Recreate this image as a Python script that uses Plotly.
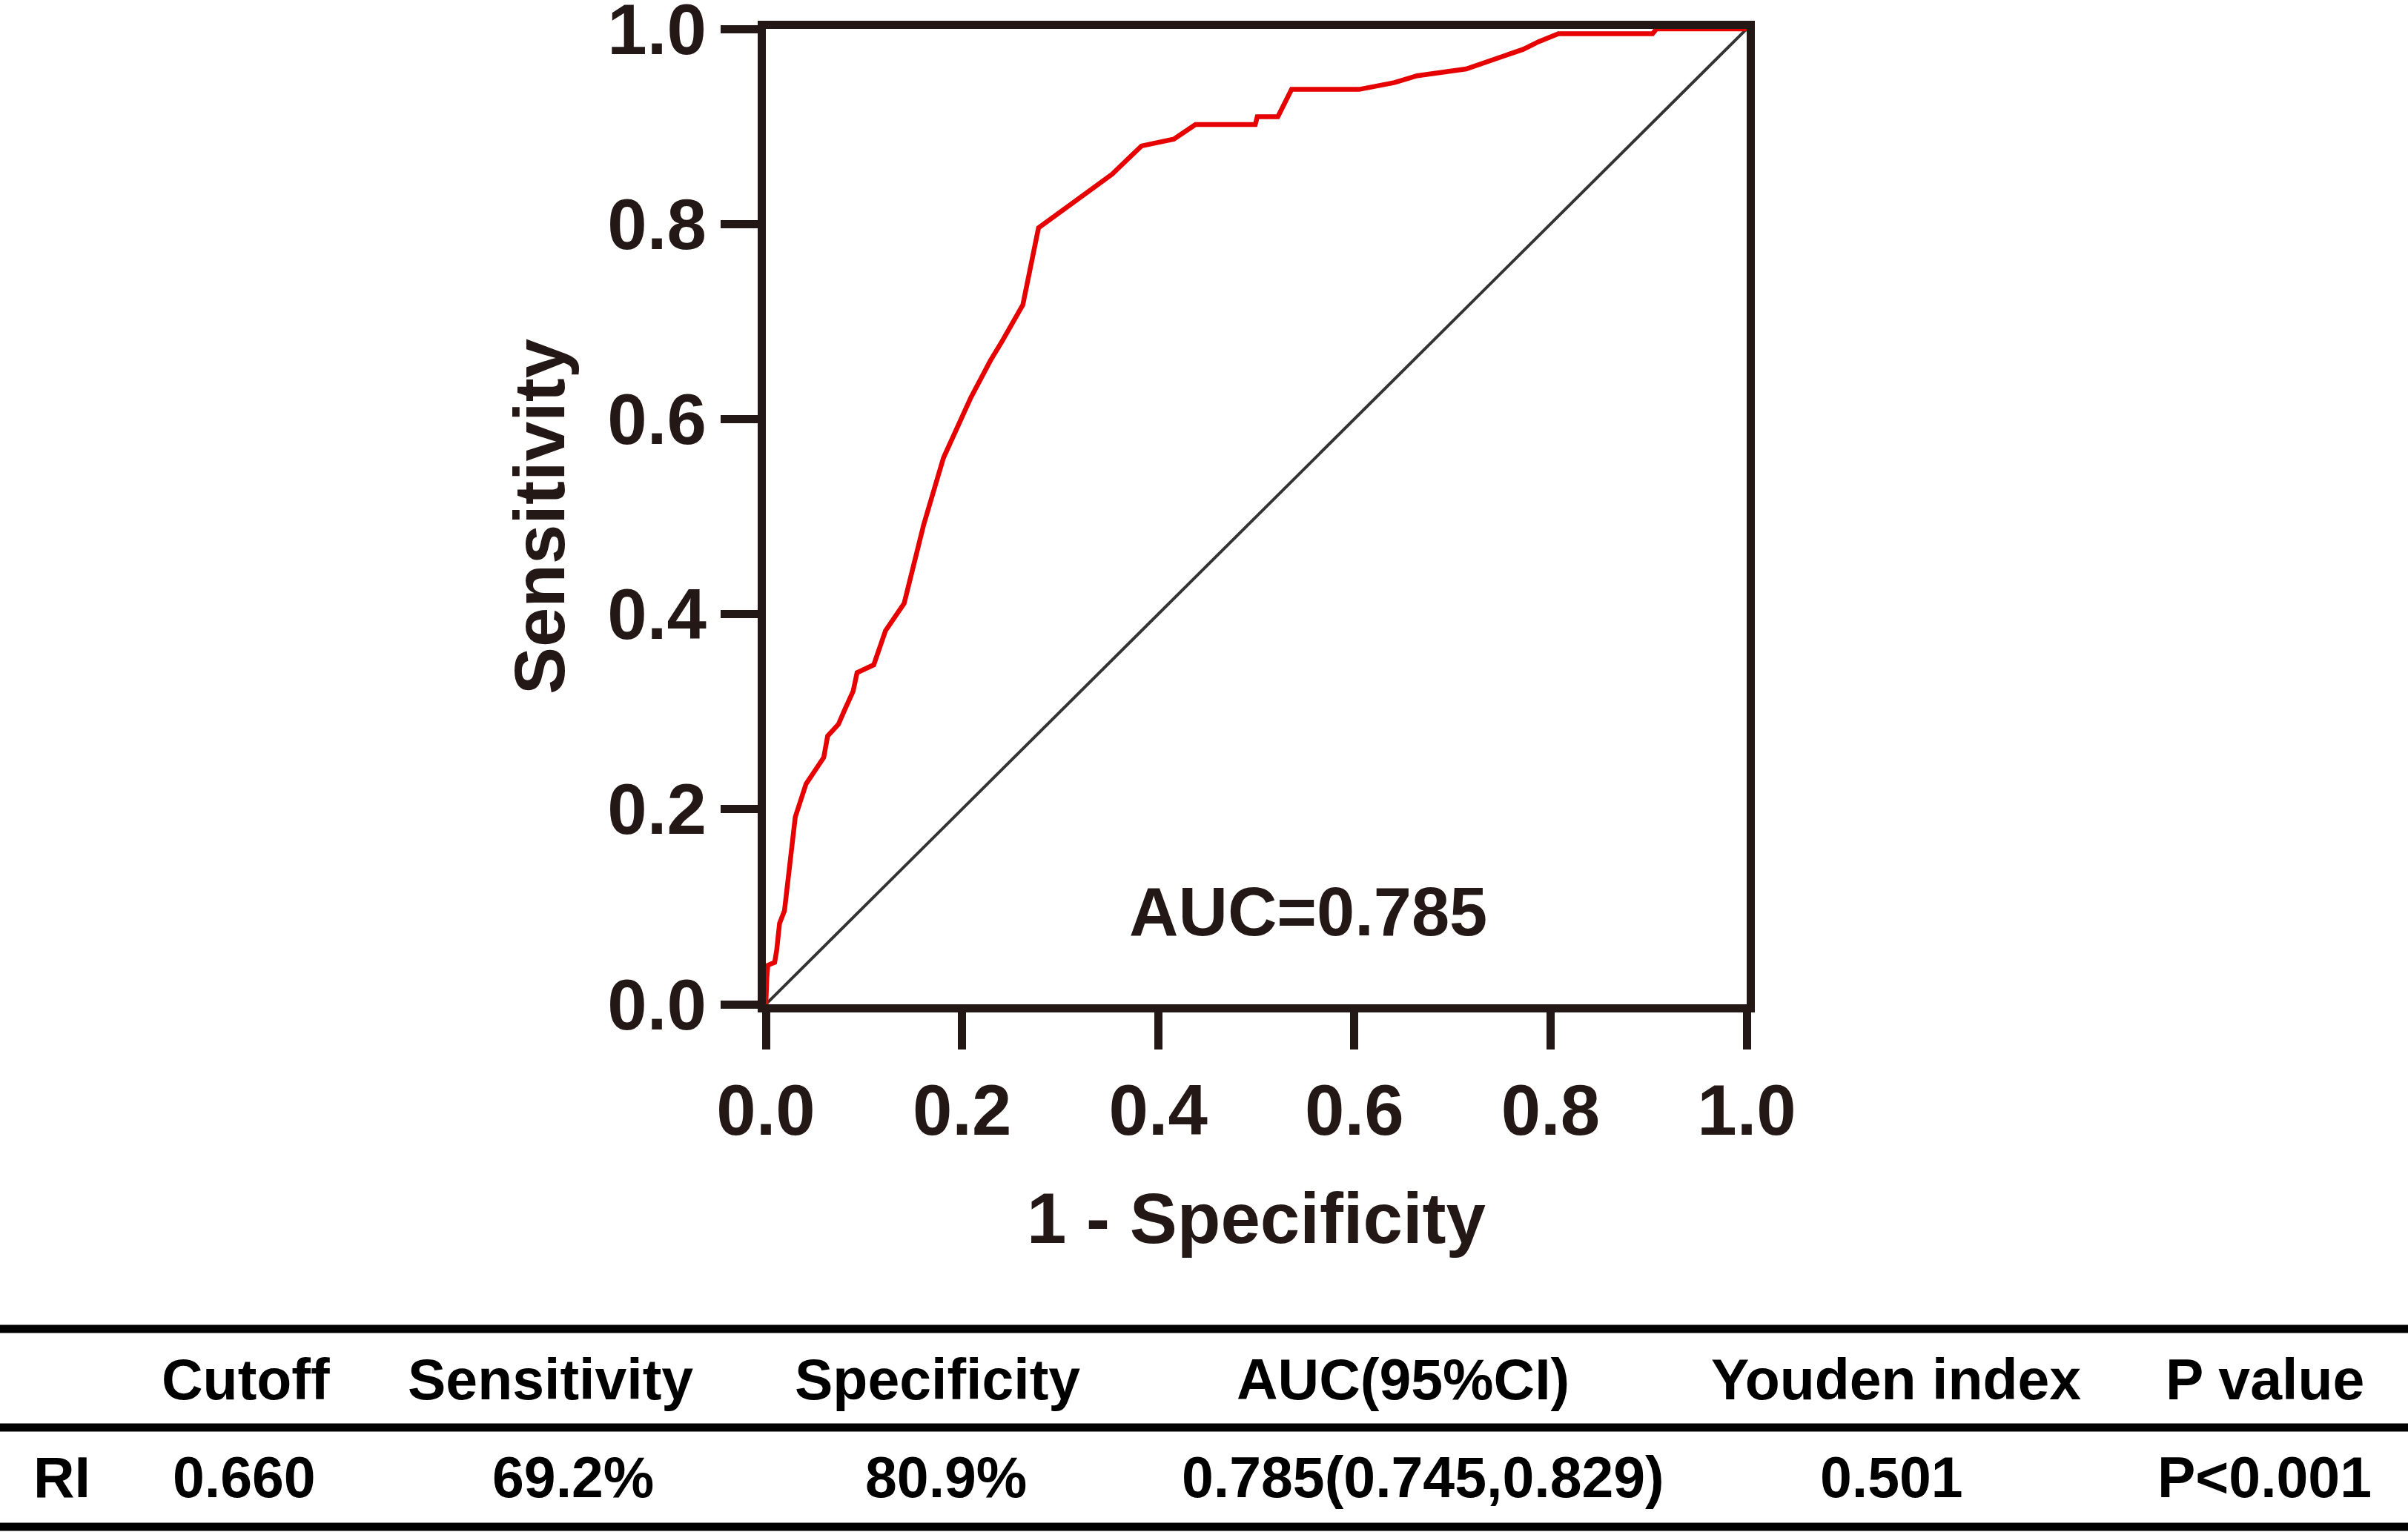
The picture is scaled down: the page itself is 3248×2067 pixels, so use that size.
import plotly.graph_objects as go

# ---------------- data ----------------
fpr = [0, 0, 0.001, 0.002, 0.005, 0.009, 0.011, 0.014, 0.019, 0.030,
       0.041, 0.059, 0.063, 0.074, 0.080, 0.089, 0.093, 0.110, 0.122, 0.141,
       0.161, 0.181, 0.209, 0.229, 0.241, 0.262, 0.278, 0.353, 0.383, 0.416,
       0.438, 0.499, 0.501, 0.522, 0.536, 0.605, 0.641, 0.664, 0.714, 0.739,
       0.772, 0.788, 0.808, 0.904, 0.908, 1.0]
tpr = [0, 0.015, 0.027, 0.040, 0.041, 0.043, 0.055, 0.083, 0.096, 0.192,
       0.226, 0.253, 0.275, 0.287, 0.301, 0.321, 0.340, 0.348, 0.383, 0.411,
       0.492, 0.560, 0.622, 0.660, 0.680, 0.717, 0.796, 0.851, 0.880, 0.887,
       0.902, 0.902, 0.910, 0.910, 0.938, 0.938, 0.945, 0.952, 0.959, 0.968,
       0.979, 0.987, 0.995, 0.995, 1.0, 1.0]
ref_x = [0, 1]
ref_y = [0, 1]
tick_vals = [0.0, 0.2, 0.4, 0.6, 0.8, 1.0]
tick_text = ["0.0", "0.2", "0.4", "0.6", "0.8", "1.0"]
auc_label = "AUC=0.785"
x_title = "1 - Specificity"
y_title = "Sensitivity"
table_header = ["", "Cutoff", "Sensitivity", "Specificity", "AUC(95%CI)", "Youden index", "P value"]
table_row = ["RI", "0.660", "69.2%", "80.9%", "0.785(0.745,0.829)", "0.501", "P<0.001"]

# ---------------- layout constants ----------------
W, H = 3248, 2067
L, R, T, B = 1033, 2356, 39, 1355   # plot-area pixel edges
INK = "#231815"
FONT = "Liberation Sans, Arial, Helvetica, sans-serif"

def px_x(X):
    return (X - L) / (R - L)

def px_y(Y):
    return (B - Y) / (B - T)

fig = go.Figure()
fig.add_trace(go.Scatter(x=ref_x, y=ref_y, mode="lines",
                         line=dict(color="#333333", width=4),
                         hoverinfo="skip", showlegend=False))
fig.add_trace(go.Scatter(x=fpr, y=tpr, mode="lines",
                         line=dict(color="#E60000", width=6.5),
                         showlegend=False))

axis_common = dict(
    range=[0, 1], tickvals=tick_vals, ticktext=tick_text,
    showline=True, linewidth=11, linecolor=INK, mirror=True,
    ticks="outside", ticklen=50, tickwidth=11, tickcolor=INK,
    showgrid=False, zeroline=False, ticklabeloverflow="allow",
    automargin=False,
    tickfont=dict(family=FONT, size=96, color=INK, weight="bold"),
)
fig.update_xaxes(**axis_common,
                 title=dict(text=x_title, standoff=64,
                            font=dict(family=FONT, size=96, color=INK, weight="bold")))
fig.update_yaxes(**axis_common,
                 title=dict(text=y_title, standoff=30,
                            font=dict(family=FONT, size=96, color=INK, weight="bold")))

fig.add_annotation(x=0.553, y=0.095, xref="x", yref="y", text=auc_label,
                   showarrow=False, xanchor="center", yanchor="middle",
                   font=dict(family=FONT, size=92, color=INK, weight="bold"))

# ---------------- table ----------------
shapes = []
for Yl in (1793, 1926, 2060):
    shapes.append(dict(type="line", xref="paper", yref="paper",
                       x0=px_x(0), x1=px_x(W), y0=px_y(Yl), y1=px_y(Yl),
                       line=dict(color="black", width=11)))
fig.update_layout(shapes=shapes)

header_cx = [83, 331, 742, 1264, 1892, 2557, 3055]
row_cx = [83, 329, 773, 1276, 1919, 2551, 3054]
for txt, cx in zip(table_header, header_cx):
    if txt:
        fig.add_annotation(x=px_x(cx), y=px_y(1861), xref="paper", yref="paper",
                           text=txt, showarrow=False, xanchor="center", yanchor="middle",
                           font=dict(family=FONT, size=77, color="black", weight="bold"))
for txt, cx in zip(table_row, row_cx):
    fig.add_annotation(x=px_x(cx), y=px_y(1993), xref="paper", yref="paper",
                       text=txt, showarrow=False, xanchor="center", yanchor="middle",
                       font=dict(family=FONT, size=77, color="black", weight="bold"))

fig.update_layout(
    width=W, height=H, autosize=False,
    margin=dict(l=L, r=W - R, t=T, b=H - B, pad=0, autoexpand=False),
    paper_bgcolor="white", plot_bgcolor="white",
)

fig.write_html("out.html", config={"displayModeBar": False},
               post_script="document.body.style.margin='0';document.body.style.padding='0';document.body.style.overflow='hidden';")
